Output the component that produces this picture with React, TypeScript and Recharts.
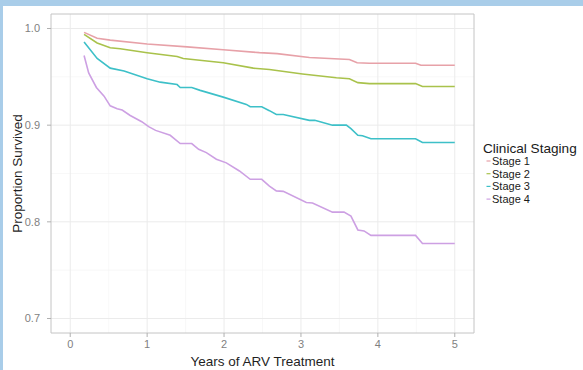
import React from "react";
import {
  CartesianGrid,
  Label,
  Line,
  LineChart,
  ReferenceArea,
  XAxis,
  YAxis,
} from "recharts";

// Kaplan-Meier survival by clinical stage, [years, proportion surviving]
const stage1: [number, number][] = [
  [0.18, 0.996], [0.35, 0.99], [0.52, 0.988], [1.0, 0.984], [1.52, 0.981],
  [1.99, 0.978], [2.46, 0.975], [2.69, 0.974], [3.11, 0.97], [3.63, 0.968],
  [3.73, 0.9645], [3.89, 0.964], [4.49, 0.964], [4.56, 0.962], [5.0, 0.962],
];
const stage2: [number, number][] = [
  [0.18, 0.994], [0.35, 0.985], [0.52, 0.98], [0.65, 0.979], [1.0, 0.975],
  [1.39, 0.971], [1.47, 0.969], [1.99, 0.9645], [2.38, 0.959], [2.59, 0.9576],
  [3.02, 0.953], [3.46, 0.949], [3.63, 0.948], [3.74, 0.944], [3.89, 0.943],
  [4.49, 0.943], [4.58, 0.94], [5.0, 0.94],
];
const stage3: [number, number][] = [
  [0.18, 0.986], [0.35, 0.969], [0.52, 0.959], [0.7, 0.956], [1.0, 0.948],
  [1.17, 0.9445], [1.39, 0.942], [1.43, 0.939], [1.58, 0.939], [1.69, 0.936],
  [1.99, 0.929], [2.29, 0.9215], [2.34, 0.919], [2.49, 0.919], [2.59, 0.915],
  [2.68, 0.911], [2.77, 0.911], [3.11, 0.905], [3.18, 0.905], [3.41, 0.9],
  [3.59, 0.9], [3.65, 0.8964], [3.74, 0.8895], [3.8, 0.889], [3.91, 0.886],
  [4.49, 0.886], [4.58, 0.882], [5.0, 0.882],
];
const stage4: [number, number][] = [
  [0.18, 0.972], [0.24, 0.954], [0.34, 0.939], [0.44, 0.93], [0.52, 0.92],
  [0.61, 0.917], [0.675, 0.9156], [0.78, 0.91], [0.93, 0.9036], [1.02, 0.8985],
  [1.11, 0.8946], [1.3, 0.8895], [1.43, 0.881], [1.58, 0.881], [1.67, 0.875],
  [1.77, 0.8716], [1.9, 0.8647], [2.03, 0.861], [2.2, 0.8526], [2.34, 0.844],
  [2.49, 0.844], [2.59, 0.837], [2.68, 0.832], [2.77, 0.8315], [3.07, 0.82],
  [3.15, 0.8195], [3.41, 0.81], [3.56, 0.81], [3.65, 0.806], [3.74, 0.7916],
  [3.82, 0.7906], [3.91, 0.786], [4.49, 0.786], [4.58, 0.7776], [5.0, 0.7776],
];

const stageNames = ["Stage 1", "Stage 2", "Stage 3", "Stage 4"];
const stageColors = ["#E7A1A8", "#A9C24B", "#3DC0C8", "#CDA0E3"];

const xTicks = [0, 1, 2, 3, 4, 5];
const xMinor = [0.5, 1.5, 2.5, 3.5, 4.5];
const yTicks = [0.7, 0.8, 0.9, 1.0];
const yMinor = [0.75, 0.85, 0.95];

const X_DOMAIN: [number, number] = [-0.25, 5.25];
const Y_DOMAIN: [number, number] = [0.685, 1.015];

const toRows = (pts: [number, number][]) =>
  pts.map(([years, surv]) => ({ years, surv }));

const series = [stage1, stage2, stage3, stage4].map(toRows);

const FONT = '"Liberation Sans", Arial, Helvetica, sans-serif';

function StageLegend() {
  return (
    <svg
      width={583}
      height={370}
      style={{ position: "absolute", left: 0, top: 0, pointerEvents: "none" }}
    >
      <text x={483} y={153} fontSize={13.6} fill="#1a1a1a" fontFamily={FONT}>
        Clinical Staging
      </text>
      {stageNames.map((name, i) => {
        const base = 165 + i * 12.7;
        return (
          <g key={name}>
            <line
              x1={486.5}
              x2={490.5}
              y1={base - 4}
              y2={base - 4}
              stroke={stageColors[i]}
              strokeWidth={1.2}
            />
            <text x={492} y={base} fontSize={11} fill="#1a1a1a" fontFamily={FONT}>
              {name}
            </text>
          </g>
        );
      })}
    </svg>
  );
}

export default function App() {
  return (
    <div
      style={{
        position: "absolute",
        left: 0,
        top: 0,
        width: 583,
        height: 370,
        background: "#A9CDE9",
        overflow: "hidden",
      }}
    >
      <div
        style={{
          position: "absolute",
          left: 3,
          top: 6,
          right: 0,
          bottom: 0,
          background: "#ffffff",
        }}
      />
      <div style={{ position: "absolute", left: 0, top: 0 }}>
        <LineChart
          width={583}
          height={370}
          margin={{ top: 14, right: 109, bottom: 0, left: 0 }}
          style={{ fontFamily: FONT }}
        >
          <CartesianGrid
            stroke="#f4f4f4"
            strokeWidth={0.6}
            horizontalValues={yMinor}
            verticalValues={xMinor}
          />
          <CartesianGrid
            stroke="#ebebeb"
            strokeWidth={1}
            horizontalValues={yTicks}
            verticalValues={xTicks}
          />
          <XAxis
            type="number"
            dataKey="years"
            domain={X_DOMAIN}
            ticks={xTicks}
            allowDataOverflow
            height={37}
            axisLine={false}
            tickLine={{ stroke: "#b0b0b0" }}
            tickSize={4}
            tickMargin={3}
            tick={{ fill: "#7f7f7f", fontSize: 11 }}
          >
            <Label
              value="Years of ARV Treatment"
              position="insideBottom"
              offset={4}
              style={{ fill: "#1f1f1f", fontSize: 13.5 }}
            />
          </XAxis>
          <YAxis
            type="number"
            domain={Y_DOMAIN}
            ticks={yTicks}
            allowDataOverflow
            width={51}
            axisLine={false}
            tickLine={{ stroke: "#b0b0b0" }}
            tickSize={4}
            tickMargin={7}
            tickFormatter={(v: number) => v.toFixed(1)}
            tick={{ fill: "#7f7f7f", fontSize: 11 }}
          >
            <Label
              value="Proportion Survived"
              angle={-90}
              position="insideLeft"
              offset={17}
              style={{ fill: "#1f1f1f", fontSize: 13.5, textAnchor: "middle" }}
            />
          </YAxis>
          <ReferenceArea
            x1={X_DOMAIN[0]}
            x2={X_DOMAIN[1]}
            y1={Y_DOMAIN[0]}
            y2={Y_DOMAIN[1]}
            fill="none"
            stroke="#c4c4c4"
            strokeWidth={1}
          />
          {series.map((rows, i) => (
            <Line
              key={stageNames[i]}
              data={rows}
              dataKey="surv"
              name={stageNames[i]}
              type="linear"
              stroke={stageColors[i]}
              strokeWidth={1.6}
              dot={false}
              activeDot={false}
              isAnimationActive={false}
            />
          ))}
        </LineChart>
      </div>
      <StageLegend />
    </div>
  );
}
